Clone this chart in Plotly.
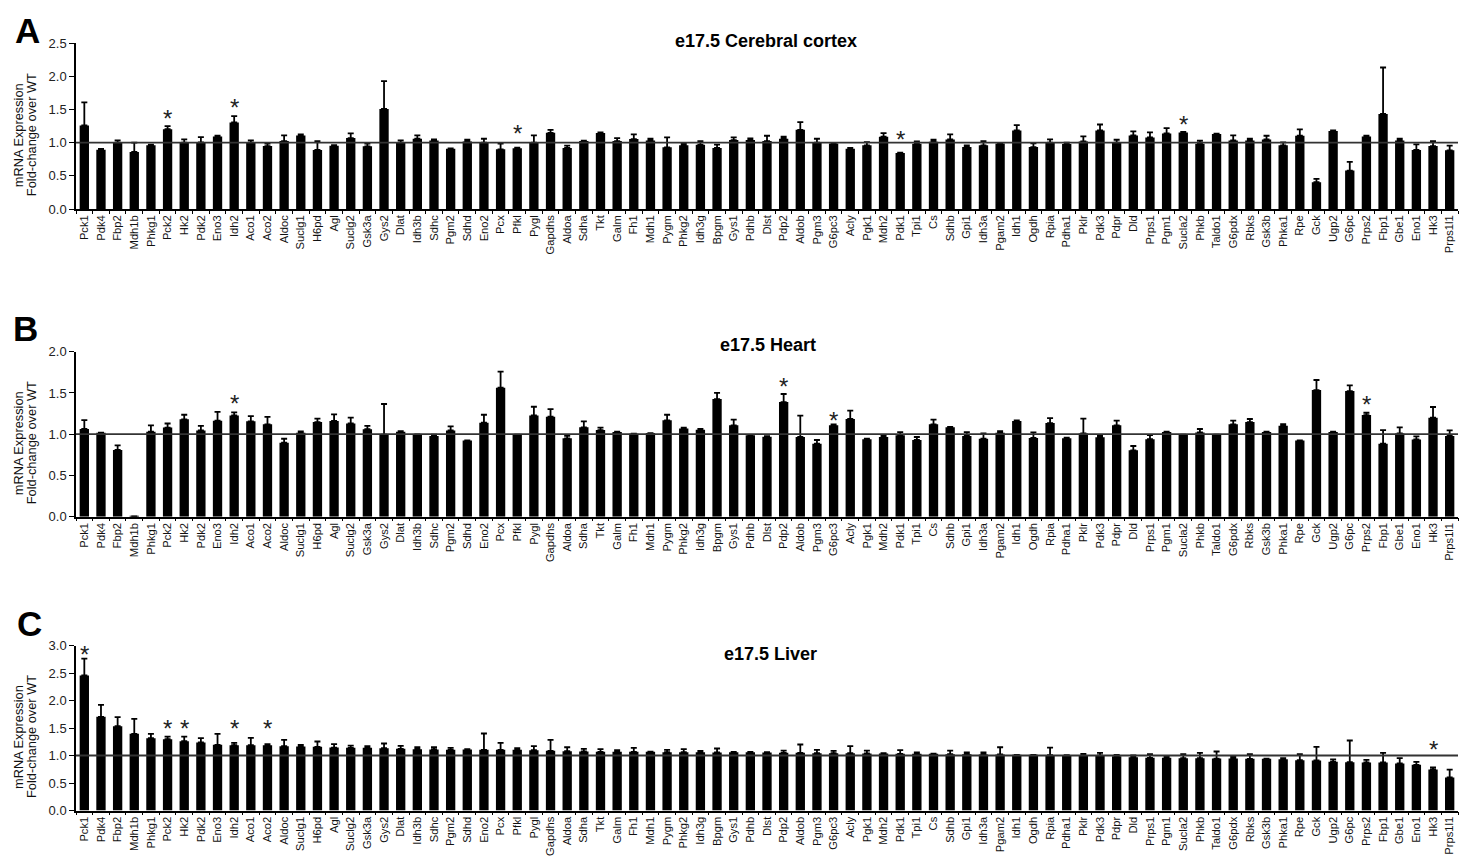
import plotly.graph_objects as go

genes = ["Pck1","Pdk4","Fbp2","Mdh1b","Phkg1","Pck2","Hk2","Pdk2","Eno3","Idh2","Aco1","Aco2","Aldoc","Suclg1","H6pd","Agl","Suclg2","Gsk3a","Gys2","Dlat","Idh3b","Sdhc","Pgm2","Sdhd","Eno2","Pcx","Pfkl","Pygl","Gapdhs","Aldoa","Sdha","Tkt","Galm","Fh1","Mdh1","Pygm","Phkg2","Idh3g","Bpgm","Gys1","Pdhb","Dlst","Pdp2","Aldob","Pgm3","G6pc3","Acly","Pgk1","Mdh2","Pdk1","Tpi1","Cs","Sdhb","Gpi1","Idh3a","Pgam2","Idh1","Ogdh","Rpia","Pdha1","Pklr","Pdk3","Pdpr","Dld","Prps1","Pgm1","Sucla2","Phkb","Taldo1","G6pdx","Rbks","Gsk3b","Phka1","Rpe","Gck","Ugp2","G6pc","Prps2","Fbp1","Gbe1","Eno1","Hk3","Prps1l1"]

cortex_mean = [1.26,0.895,1.0,0.86,0.96,1.205,1.0,1.005,1.095,1.305,1.0,0.95,1.025,1.11,0.89,0.955,1.07,0.945,1.51,1.0,1.06,1.035,0.91,1.02,1.0,0.9,0.915,1.0,1.15,0.92,1.025,1.145,1.025,1.055,1.035,0.93,0.96,0.97,0.92,1.04,1.04,1.025,1.06,1.195,1.0,0.99,0.91,0.96,1.09,0.845,0.985,1.015,1.05,0.935,0.96,0.99,1.185,0.935,1.0,0.98,1.02,1.185,1.0,1.11,1.08,1.14,1.155,0.985,1.13,1.035,1.035,1.05,0.96,1.105,0.405,1.175,0.58,1.095,1.435,1.035,0.89,0.95,0.885]
cortex_sem = [0.35,0.01,0.035,0.14,0.01,0.045,0.05,0.08,0.01,0.095,0.035,0.035,0.085,0.015,0.135,0.01,0.07,0.04,0.42,0.035,0.05,0.015,0.005,0.025,0.06,0.085,0.01,0.11,0.045,0.035,0.005,0.01,0.045,0.07,0.025,0.15,0.025,0.055,0.05,0.04,0.025,0.08,0.03,0.115,0.06,0.005,0.01,0.05,0.055,0.005,0.035,0.03,0.075,0.025,0.065,0.005,0.08,0.055,0.05,0.02,0.075,0.09,0.045,0.06,0.075,0.08,0.01,0.045,0.005,0.075,0.025,0.055,0.045,0.095,0.05,0.01,0.13,0.01,0.70,0.025,0.085,0.075,0.07]

heart_mean = [1.063,1.018,0.81,0.005,1.03,1.08,1.18,1.046,1.164,1.228,1.156,1.12,0.897,1.018,1.147,1.16,1.13,1.06,0.994,1.03,0.994,0.978,1.046,0.925,1.14,1.564,0.994,1.228,1.212,0.95,1.083,1.05,1.026,1.006,1.014,1.168,1.07,1.055,1.426,1.107,0.986,0.97,1.39,0.966,0.885,1.11,1.184,0.94,0.966,0.986,0.93,1.12,1.083,0.978,0.945,1.018,1.16,0.954,1.135,0.95,1.01,0.962,1.107,0.804,0.94,1.026,0.99,1.022,0.99,1.12,1.147,1.026,1.103,0.925,1.535,1.026,1.523,1.232,0.885,1.01,0.937,1.2,0.978]
heart_sem = [0.107,0.0,0.055,0.0,0.077,0.05,0.056,0.054,0.106,0.037,0.064,0.09,0.048,0.016,0.043,0.08,0.07,0.04,0.372,0.008,0.005,0.016,0.049,0.0,0.096,0.194,0.0,0.105,0.093,0.03,0.073,0.03,0.005,0.0,0.0,0.068,0.008,0.008,0.074,0.069,0.005,0.005,0.097,0.258,0.045,0.008,0.101,0.005,0.014,0.04,0.036,0.056,0.005,0.048,0.065,0.02,0.008,0.068,0.061,0.008,0.178,0.018,0.057,0.053,0.05,0.005,0.005,0.041,0.005,0.044,0.037,0.005,0.02,0.0,0.122,0.005,0.069,0.028,0.165,0.073,0.037,0.13,0.068]

liver_mean = [2.455,1.703,1.533,1.394,1.315,1.297,1.26,1.236,1.194,1.188,1.188,1.188,1.17,1.164,1.158,1.145,1.14,1.14,1.133,1.121,1.115,1.11,1.103,1.11,1.103,1.103,1.103,1.097,1.085,1.079,1.073,1.067,1.067,1.067,1.067,1.06,1.06,1.06,1.055,1.06,1.06,1.055,1.048,1.048,1.042,1.042,1.042,1.036,1.036,1.03,1.03,1.03,1.024,1.024,1.018,1.018,1.012,1.012,1.006,1.006,1.0,1.0,0.988,0.97,0.958,0.958,0.952,0.952,0.945,0.945,0.94,0.94,0.933,0.915,0.909,0.885,0.879,0.873,0.873,0.855,0.83,0.745,0.6]
liver_sem = [0.305,0.217,0.164,0.273,0.079,0.048,0.085,0.079,0.2,0.042,0.132,0.018,0.115,0.03,0.097,0.061,0.04,0.03,0.085,0.055,0.035,0.04,0.037,0.005,0.297,0.127,0.03,0.073,0.2,0.071,0.047,0.048,0.03,0.073,0.005,0.043,0.055,0.025,0.072,0.005,0.005,0.005,0.042,0.152,0.061,0.043,0.128,0.054,0.005,0.067,0.025,0.005,0.066,0.031,0.037,0.132,0.0,0.0,0.139,0.0,0.03,0.048,0.024,0.03,0.066,0.03,0.072,0.096,0.128,0.031,0.084,0.005,0.019,0.109,0.249,0.042,0.394,0.048,0.175,0.097,0.055,0.037,0.145]

cortex_stars = {"Pck2": 1.45, "Idh2": 1.62, "Pfkl": 1.225, "Pdk1": 1.135, "Sucla2": 1.37}
heart_stars = {"Idh2": 1.442, "Pdp2": 1.653, "G6pc3": 1.24, "Prps2": 1.43}
liver_stars = {"Pck1": 2.95, "Pck2": 1.594, "Hk2": 1.594, "Idh2": 1.594, "Aco2": 1.594, "Hk3": 1.224}

panels = [
    ("A", "e17.5 Cerebral cortex", cortex_mean, cortex_sem, cortex_stars, 2.5),
    ("B", "e17.5 Heart", heart_mean, heart_sem, heart_stars, 2.0),
    ("C", "e17.5 Liver", liver_mean, liver_sem, liver_stars, 3.0),
]

# page is 1472x865; the html body has an 8px margin, so the figure is smaller
PAGE_MARGIN = 8
W, H = 1472 - 2 * PAGE_MARGIN, 865 - 2 * PAGE_MARGIN
FONT = "Liberation Sans, Arial, sans-serif"
# reference pixel geometry of each panel: (y of zero, y of top), letter pos (x, y, anchor), title pos
geom = [
    (209.0, 43.3, (27, 8.6, "top"), (766, 41)),
    (516.7, 351.7, (25, 328, "middle"), (768, 345)),
    (810.5, 645.5, (29, 623, "middle"), (770, 654)),
]
x0px, x1px = 76, 1458

def px(x):
    return (x - PAGE_MARGIN) / W

def py(y):
    return 1 - (y - PAGE_MARGIN) / H

fig = go.Figure()
annotations = []
shapes = []
for i, (letter, title, mean, sem, stars, ymax) in enumerate(panels):
    n = "" if i == 0 else str(i + 1)
    xa, ya = "x" + n, "y" + n
    fig.add_trace(go.Bar(
        x=genes, y=mean, xaxis=xa, yaxis=ya,
        marker=dict(color="black", line=dict(width=0)),
        error_y=dict(type="data", symmetric=False, array=sem,
                     arrayminus=[0] * len(sem), color="black",
                     thickness=1.8, width=3),
        showlegend=False, hoverinfo="x+y",
    ))
    yz, yt, (lx, ly, lanchor), (tx, ty) = geom[i]
    fig.layout["xaxis" + n] = dict(
        domain=[px(x0px), px(x1px)], anchor=ya, type="category",
        range=[-0.5, len(genes) - 0.5],
        tickmode="linear", tick0=0, dtick=1,
        tickangle=-90, tickson="boundaries", ticks="outside", ticklen=3,
        tickcolor="black", tickwidth=1.3,
        showline=True, linecolor="black", linewidth=1.5,
        showgrid=False, zeroline=False, automargin=False,
        tickfont=dict(family=FONT, size=11.2, color="#111"),
    )
    fig.layout["yaxis" + n] = dict(
        domain=[py(yz), py(yt)], anchor=xa, range=[0, ymax],
        dtick=0.5, tick0=0, tickformat=".1f", ticks="outside", ticklen=5,
        tickcolor="black", tickwidth=1.3,
        showline=True, linecolor="black", linewidth=1.5,
        showgrid=False, zeroline=False, automargin=False,
        tickfont=dict(family=FONT, size=13, color="#222"),
    )
    shapes.append(dict(type="line", xref=xa + " domain", x0=0, x1=1,
                       yref=ya, y0=1, y1=1,
                       line=dict(color="#333333", width=1.8), layer="above"))
    for g, yv in stars.items():
        annotations.append(dict(x=g, y=yv, xref=xa, yref=ya, text="*",
                                showarrow=False, yanchor="middle", yshift=-6,
                                font=dict(family=FONT, size=24, color="#222")))
    annotations.append(dict(x=px(lx), y=py(ly), xref="paper", yref="paper",
                            text="<b>%s</b>" % letter, showarrow=False,
                            xanchor="center", yanchor=lanchor,
                            font=dict(family=FONT, size=35, color="black")))
    annotations.append(dict(x=px(tx), y=py(ty), xref="paper", yref="paper",
                            text="<b>%s</b>" % title, showarrow=False,
                            xanchor="center", yanchor="middle",
                            font=dict(family=FONT, size=18, color="black")))
    cy = (yz + yt) / 2 + 9
    annotations.append(dict(x=px(18), y=py(cy), xref="paper", yref="paper",
                            text="mRNA Expression", textangle=-90, showarrow=False,
                            xanchor="center", yanchor="middle",
                            font=dict(family=FONT, size=12.8, color="#111")))
    annotations.append(dict(x=px(31), y=py(cy), xref="paper", yref="paper",
                            text="Fold-change over WT", textangle=-90, showarrow=False,
                            xanchor="center", yanchor="middle",
                            font=dict(family=FONT, size=12.8, color="#111")))

fig.update_layout(
    width=W, height=H, margin=dict(l=0, r=0, t=0, b=0, autoexpand=False),
    paper_bgcolor="white", plot_bgcolor="white",
    bargap=0.44, annotations=annotations, shapes=shapes,
    font=dict(family=FONT),
)
fig.write_html("out.html")
